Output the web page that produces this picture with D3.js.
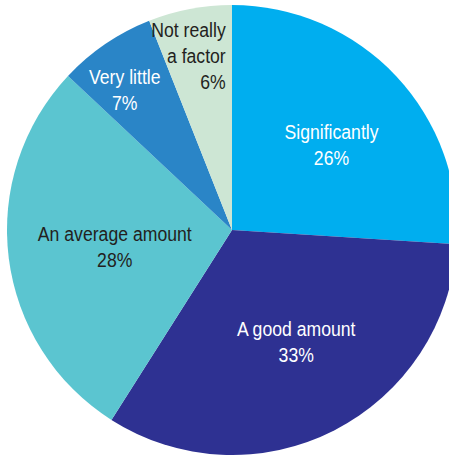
<!DOCTYPE html>
<html>
<head>
<meta charset="utf-8">
<script src="https://cdn.jsdelivr.net/npm/d3@7"></script>
<style>
  html, body { margin: 0; padding: 0; background: #fff; overflow: hidden; }
  svg { display: block; }
  text { font-family: "Liberation Sans", Arial, sans-serif; font-size: 21px; }
</style>
</head>
<body>
<svg id="chart" width="449" height="455"></svg>
<script>
const categories = ["Significantly", "A good amount", "An average amount", "Very little", "Not really a factor"];
const values = [26, 33, 28, 7, 6];
const labelLines = [["Significantly"], ["A good amount"], ["An average amount"], ["Very little"], ["Not really", "a factor"]];
const colors = ["#00aeef", "#2e3192", "#5bc5d0", "#2a85c7", "#cde6d4"];
const textColors = ["#ffffff", "#ffffff", "#231f20", "#ffffff", "#231f20"];

const W = 449, H = 455;
const cx = 232, cy = 230, R = 225;
const svg = d3.select("#chart");
const g = svg.append("g").attr("transform", `translate(${cx},${cy})`);

const data = categories.map((c, i) => ({ c, v: values[i], i }));
const pie = d3.pie().sort(null).value(d => d.v);
const arcs = pie(data);
const arc = d3.arc().innerRadius(0).outerRadius(R);

g.selectAll("path.slice").data(arcs).join("path")
  .attr("class", "slice")
  .attr("d", arc)
  .attr("fill", d => colors[d.data.i]);

// label placement: centroid of an inner ring, nudged
const bigArc = d3.arc().innerRadius(R * 0.57).outerRadius(R * 0.57);
const smallArc = d3.arc().innerRadius(R * 0.765).outerRadius(R * 0.765);
const nudges = [[6, -3, "middle"], [6, -8, "middle"], [10, -5, "middle"], [-10.5, -4, "middle"], [26, -24, "end"]];
const lineH = 26;
const squeeze = 0.84;

arcs.forEach(a => {
  const i = a.data.i;
  const small = a.data.v < 10;
  const [px, py] = (small ? smallArc : bigArc).centroid(a);
  const [nx, ny, anchor] = nudges[i];
  const lines = labelLines[i].concat([d3.format("d")(a.data.v) + "%"]);
  const t = g.append("text")
    .attr("transform", `translate(${px + nx},${py + ny}) scale(${squeeze},1)`)
    .attr("text-anchor", anchor)
    .attr("fill", textColors[i]);
  lines.forEach((ln, k) => {
    t.append("tspan").attr("x", 0).attr("y", k * lineH).text(ln);
  });
});
</script>
</body>
</html>
